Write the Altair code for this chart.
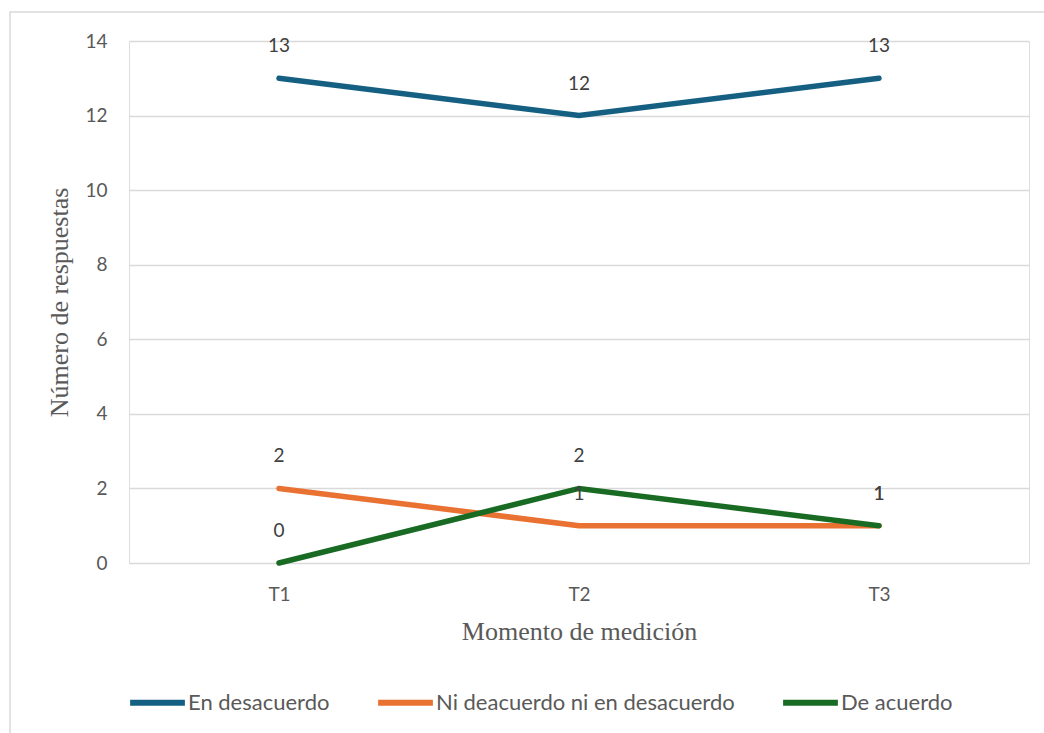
import altair as alt
import pandas as pd

momentos = ["T1", "T2", "T3"]
series = ["En desacuerdo", "Ni deacuerdo ni en desacuerdo", "De acuerdo"]
en_desacuerdo = [13, 12, 13]
ni_ni = [2, 1, 1]
de_acuerdo = [0, 2, 1]
colores = ["#156082", "#E97132", "#196B24"]

rows = []
for s, vals in zip(series, [en_desacuerdo, ni_ni, de_acuerdo]):
    for m, v in zip(momentos, vals):
        rows.append({"Momento": m, "Serie": s, "Valor": v})
df = pd.DataFrame(rows)

SANS = "Lato"
SERIF = "Liberation Serif"

x = alt.X("Momento:N", sort=momentos, scale=alt.Scale(type="point", padding=0.5),
          axis=alt.Axis(title="Momento de medición", labelAngle=0, grid=False,
                        domain=False, ticks=False, labelPadding=22,
                        labelFontSize=19, labelColor="#595959", labelFont=SANS,
                        titleFont=SERIF, titleFontSize=26, titleColor="#595959",
                        titleFontWeight="normal", titlePadding=14))
y = alt.Y("Valor:Q", scale=alt.Scale(domain=[0, 14], nice=False),
          axis=alt.Axis(title="Número de respuestas", values=list(range(0, 15, 2)),
                        domain=False, ticks=False, labelPadding=22, gridColor="#d9d9d9",
                        gridWidth=1.5, labelFontSize=19, labelColor="#595959",
                        labelFont=SANS, titleFont=SERIF,
                        titleFontSize=26, titleColor="#595959", titleFontWeight="normal",
                        titlePadding=12))
color = alt.Color("Serie:N", sort=series, scale=alt.Scale(domain=series, range=colores),
                  legend=alt.Legend(title=None, orient="none", direction="horizontal",
                                    legendX=-2, legendY=631,
                                    symbolType="stroke", symbolStrokeWidth=6, symbolSize=3000,
                                    labelFontSize=22, labelFont=SANS, labelLimit=0,
                                    labelColor="#595959", columnPadding=36, labelOffset=0))

border = alt.Chart(pd.DataFrame({"a": [0]})).mark_rect(
    fill=None, stroke="#d9d9d9", strokeWidth=1.5, clip=False
).encode(x=alt.value(-119), x2=alt.value(960), y=alt.value(-29), y2=alt.value(720))

lines = alt.Chart(df).mark_line(strokeWidth=5.5, strokeCap="round").encode(
    x=x, y=y, color=color, order=alt.Order("Momento:N"))

labels = alt.Chart(df).mark_text(dy=-32, fontSize=19, color="#404040",
                                 font=SANS).encode(
    x=alt.X("Momento:N", sort=momentos), y="Valor:Q", text="Valor:Q")

chart = alt.layer(border, lines, labels).properties(
    width=900, height=522,
    autosize=alt.AutoSizeParams(type="none"),
    padding={"left": 129, "top": 41, "right": 15, "bottom": 170},
).configure_view(stroke=None).configure(background="white")

chart.save("out.html", embed_options={"renderer": "svg", "actions": False})
